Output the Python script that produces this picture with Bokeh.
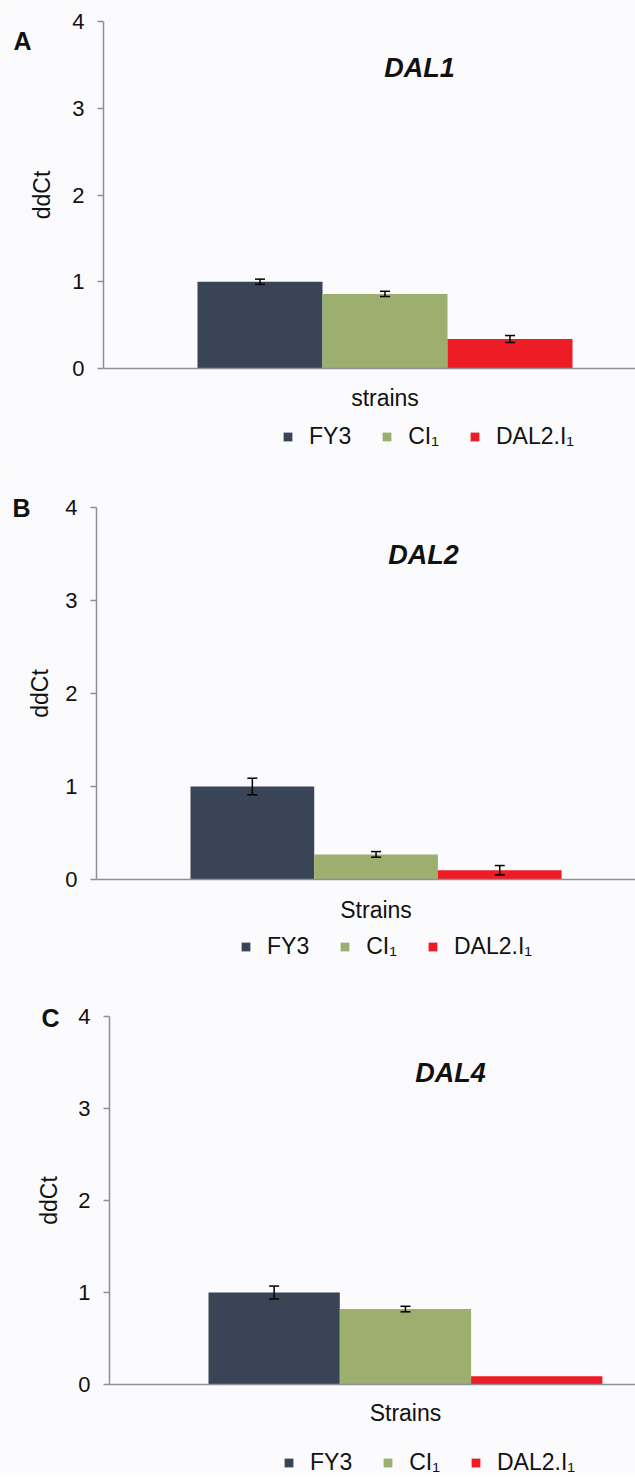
from bokeh.plotting import figure
from bokeh.layouts import column
from bokeh.models import (Range1d, ColumnDataSource, Whisker, Label, Legend,
                          LegendItem, FixedTicker, TeeHead)
from bokeh.embed import file_html
from bokeh.resources import INLINE
import numpy as np

# ---------------- data ----------------
strains = ["FY3", "CI\u2081", "DAL2.I\u2081"]
colors = ["#394457", "#9caf6e", "#ee1c25"]
yticks = [0, 1, 2, 3, 4]

dal1_values = [1.00, 0.86, 0.34]
dal1_errors = [0.03, 0.03, 0.04]
dal2_values = [1.00, 0.27, 0.10]
dal2_errors = [0.09, 0.03, 0.05]
dal4_values = [1.00, 0.82, 0.09]
dal4_errors = [0.07, 0.03, 0.00]

# ---------------- layout (pixels inside each figure) ----------------
W = 635
panels = [
    dict(letter="A", gene="DAL1", xlabel="strains", values=dal1_values, errors=dal1_errors,
         height=470, axis_x=103, y0_px=368, unit_px=86.75, bar0_px=197, bar_px=125,
         title_px=(419, 67), letter_px=(22, 40), xlabel_py=397,
         legend_px=(282, 450), label_standoff=14),
    dict(letter="B", gene="DAL2", xlabel="Strains", values=dal2_values, errors=dal2_errors,
         height=505, axis_x=96, y0_px=409, unit_px=93.0, bar0_px=190, bar_px=123.7,
         title_px=(423, 84), letter_px=(21, 37), xlabel_py=439,
         legend_px=(240, 490), label_standoff=9),
    dict(letter="C", gene="DAL4", xlabel="Strains", values=dal4_values, errors=dal4_errors,
         height=500, axis_x=109, y0_px=409, unit_px=92.0, bar0_px=208, bar_px=131.3,
         title_px=(450, 97), letter_px=(50, 42), xlabel_py=437,
         legend_px=(283, 501), label_standoff=13),
]

FONT = "Liberation Sans"
BG = "#fbfbfd"
AXIS = "#8c9096"
TXT = "#111111"


def make_panel(c):
    H = c["height"]
    bx = lambda px: (px - c["bar0_px"]) / c["bar_px"]
    by = lambda py: (c["y0_px"] - py) / c["unit_px"]
    x_start, x_end = bx(0), bx(W)
    y_start, y_end = by(H), by(0)

    p = figure(width=W, height=H, output_backend="svg", toolbar_location=None,
               x_range=Range1d(x_start, x_end), y_range=Range1d(y_start, y_end),
               min_border=0)
    p.background_fill_color = BG
    p.border_fill_color = BG
    p.outline_line_color = None
    p.grid.visible = False

    x = np.arange(len(strains)) + 0.5
    vals = np.array(c["values"])
    errs = np.array(c["errors"])
    src = ColumnDataSource(dict(x=x, top=vals, color=colors, name=strains))
    r = p.vbar(x="x", top="top", width=1.0, bottom=0, fill_color="color",
               line_color=None, source=src)

    m = errs > 0
    esrc = ColumnDataSource(dict(x=x[m], upper=(vals + errs)[m], lower=(vals - errs)[m]))
    w = Whisker(base="x", upper="upper", lower="lower", source=esrc, level="overlay",
                line_color="black", line_width=1.5,
                upper_head=TeeHead(size=10, line_color="black", line_width=1.5),
                lower_head=TeeHead(size=10, line_color="black", line_width=1.5))
    p.add_layout(w)

    axis_x = bx(c["axis_x"])

    # y axis
    ya = p.yaxis[0]
    ya.fixed_location = axis_x
    ya.bounds = (0, 4)
    ya.ticker = FixedTicker(ticks=yticks)
    ya.minor_tick_line_color = None
    ya.major_tick_in = 0
    ya.major_tick_out = 6
    ya.major_tick_line_color = AXIS
    ya.axis_line_color = AXIS
    ya.axis_line_width = 1.5
    ya.major_tick_line_width = 1.5
    ya.major_label_text_font = FONT
    ya.major_label_text_font_size = "22px"
    ya.major_label_text_color = TXT
    ya.major_label_standoff = 13
    ya.axis_label = "ddCt"
    ya.axis_label_text_font = FONT
    ya.axis_label_text_font_style = "normal"
    ya.axis_label_text_font_size = "23px"
    ya.axis_label_text_color = TXT
    ya.axis_label_standoff = c["label_standoff"]

    # x axis (line only at ddCt = 0)
    xa = p.xaxis[0]
    xa.fixed_location = 0
    xa.bounds = (axis_x, x_end)
    xa.ticker = FixedTicker(ticks=[])
    xa.major_tick_line_color = None
    xa.minor_tick_line_color = None
    xa.major_label_text_font_size = "0px"
    xa.axis_line_color = AXIS
    xa.axis_line_width = 1.5

    # labels
    p.add_layout(Label(x=bx(c["title_px"][0]), y=by(c["title_px"][1]), text=c["gene"],
                       text_font=FONT, text_font_style="bold italic", text_font_size="27px",
                       text_align="center", text_baseline="middle", text_color=TXT))
    p.add_layout(Label(x=bx(c["letter_px"][0]), y=by(c["letter_px"][1]), text=c["letter"],
                       text_font=FONT, text_font_style="bold", text_font_size="25px",
                       text_align="center", text_baseline="middle", text_color=TXT))
    p.add_layout(Label(x=1.5, y=by(c["xlabel_py"]), text=c["xlabel"],
                       text_font=FONT, text_font_size="23px",
                       text_align="center", text_baseline="middle", text_color=TXT))

    items = [LegendItem(label=s, renderers=[r], index=i) for i, s in enumerate(strains)]
    lx, ly = c["legend_px"]
    lg = Legend(items=items, location=(lx, H - ly), orientation="horizontal",
                glyph_width=11, glyph_height=11, label_standoff=16, spacing=30,
                padding=0, margin=0, border_line_color=None, background_fill_alpha=0,
                label_text_font=FONT, label_text_font_size="23px", label_height=11,
                label_text_color=TXT)
    p.add_layout(lg)
    return p


figs = [make_panel(c) for c in panels]
layout = column(*figs, spacing=0)
open("out.html", "w").write(file_html(layout, INLINE))
